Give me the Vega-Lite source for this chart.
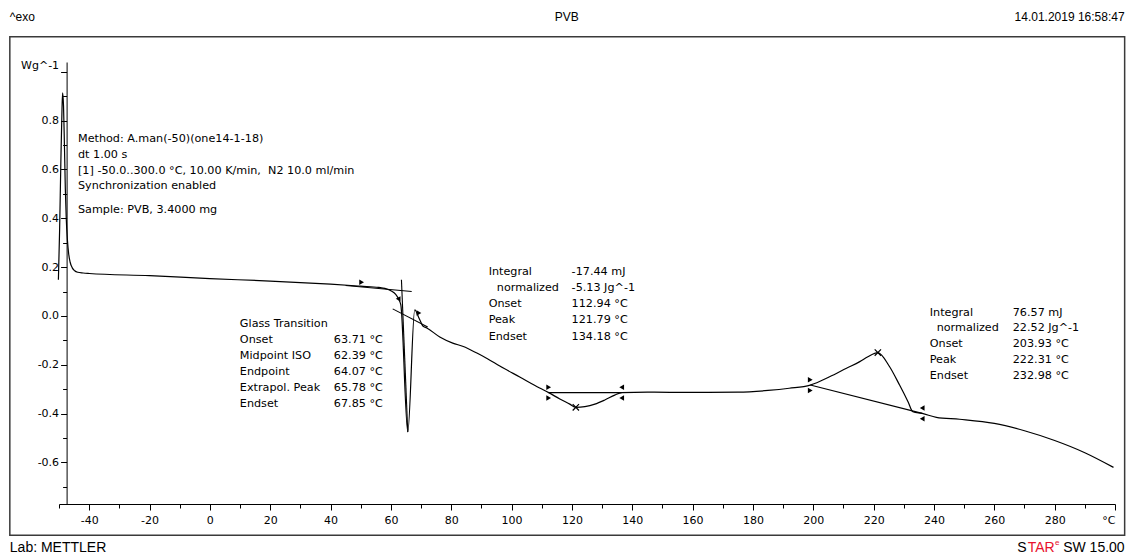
{
  "$schema": "https://vega.github.io/schema/vega-lite/v6.json",
  "width": 1056,
  "height": 442,
  "autosize": "none",
  "padding": {"left": 59, "top": 62, "right": 20, "bottom": 52},
  "background": "white",
  "config": {"view": {"stroke": null}},
  "datasets": {
    "frame": [{"x1": -66.3, "x2": 303.2, "y1": 1.143, "y2": -0.898}],
    "curve": [
      {"t": -50.2, "w": 0.148}, {"t": -49.8, "w": 0.35}, {"t": -49.4, "w": 0.62}, {"t": -49.0, "w": 0.85},
      {"t": -48.8, "w": 0.914}, {"t": -48.5, "w": 0.86}, {"t": -48.2, "w": 0.70}, {"t": -47.9, "w": 0.52},
      {"t": -47.6, "w": 0.40}, {"t": -47.2, "w": 0.31}, {"t": -46.8, "w": 0.255}, {"t": -46.3, "w": 0.22},
      {"t": -45.6, "w": 0.197}, {"t": -44.8, "w": 0.185}, {"t": -43.8, "w": 0.179}, {"t": -42, "w": 0.176},
      {"t": -40, "w": 0.174}, {"t": -20, "w": 0.165}, {"t": 0, "w": 0.153}, {"t": 20, "w": 0.143},
      {"t": 40, "w": 0.130}, {"t": 50, "w": 0.122}, {"t": 56, "w": 0.117}, {"t": 58, "w": 0.113},
      {"t": 60, "w": 0.103}, {"t": 61.6, "w": 0.088}, {"t": 62.6, "w": 0.068}, {"t": 63.3, "w": 0.045},
      {"t": 65.6, "w": -0.475}, {"t": 67.9, "w": 0.025}, {"t": 69.3, "w": -0.008}, {"t": 70.6, "w": -0.041},
      {"t": 71.9, "w": -0.049}, {"t": 76.2, "w": -0.086}, {"t": 80.5, "w": -0.111}, {"t": 84, "w": -0.125},
      {"t": 88.5, "w": -0.152}, {"t": 92, "w": -0.175}, {"t": 96.1, "w": -0.205}, {"t": 102.7, "w": -0.25},
      {"t": 109.3, "w": -0.295}, {"t": 112.3, "w": -0.314}, {"t": 116.0, "w": -0.340}, {"t": 119.3, "w": -0.361},
      {"t": 121.3, "w": -0.374}, {"t": 124.3, "w": -0.371}, {"t": 127.6, "w": -0.361}, {"t": 130.9, "w": -0.344},
      {"t": 134.2, "w": -0.324}, {"t": 136.5, "w": -0.314}, {"t": 145, "w": -0.312}, {"t": 160, "w": -0.313},
      {"t": 175, "w": -0.312}, {"t": 185, "w": -0.305}, {"t": 192, "w": -0.296}, {"t": 199, "w": -0.283},
      {"t": 205.4, "w": -0.249}, {"t": 211.0, "w": -0.214}, {"t": 215.4, "w": -0.187}, {"t": 218.1, "w": -0.167},
      {"t": 221.4, "w": -0.150}, {"t": 225.3, "w": -0.208}, {"t": 228.6, "w": -0.283}, {"t": 231.4, "w": -0.351},
      {"t": 233.0, "w": -0.392}, {"t": 236.1, "w": -0.399}, {"t": 240.8, "w": -0.415}, {"t": 248.5, "w": -0.423},
      {"t": 260, "w": -0.44}, {"t": 270, "w": -0.47}, {"t": 280, "w": -0.51}, {"t": 290, "w": -0.56},
      {"t": 299.5, "w": -0.62}
    ],
    "segments": [
      {"seg": "b1", "t": 45, "w": 0.125}, {"seg": "b1", "t": 66.9, "w": 0.100},
      {"seg": "b2", "t": 60.6, "w": 0.029}, {"seg": "b2", "t": 72.2, "w": -0.045},
      {"seg": "tg", "t": 63.5, "w": 0.148}, {"seg": "tg", "t": 65.6, "w": -0.475},
      {"seg": "i1", "t": 112.3, "w": -0.314}, {"seg": "i1", "t": 136.5, "w": -0.314},
      {"seg": "i2", "t": 199, "w": -0.283}, {"seg": "i2", "t": 236.1, "w": -0.399}
    ],
    "marks": [
      {"kind": "right", "t": 112.3, "w": -0.292}, {"kind": "right", "t": 112.3, "w": -0.336},
      {"kind": "right", "t": 199, "w": -0.261}, {"kind": "right", "t": 199, "w": -0.305},
      {"kind": "right", "t": 50.3, "w": 0.138}, {"kind": "right", "t": 69.3, "w": 0.012},
      {"kind": "left", "t": 136.5, "w": -0.292}, {"kind": "left", "t": 136.5, "w": -0.336},
      {"kind": "left", "t": 236.1, "w": -0.377}, {"kind": "left", "t": 236.1, "w": -0.421},
      {"kind": "left", "t": 62.4, "w": 0.07},
      {"kind": "x", "t": 121.3, "w": -0.374}, {"kind": "x", "t": 221.4, "w": -0.150}
    ],
    "texts": [
      {"grp": "note", "label": "Method: A.man(-50)(one14-1-18)", "t": -43.7, "w": 0.725},
      {"grp": "note", "label": "dt 1.00 s", "t": -43.7, "w": 0.660},
      {"grp": "note", "label": "[1] -50.0..300.0 °C, 10.00 K/min,\u00a0 N2 10.0 ml/min", "t": -43.7, "w": 0.594},
      {"grp": "note", "label": "Synchronization enabled", "t": -43.7, "w": 0.533},
      {"grp": "note", "label": "Sample: PVB, 3.4000 mg", "t": -43.7, "w": 0.434},
      {"grp": "note", "label": "Glass Transition", "t": 9.94, "w": -0.033},
      {"grp": "note", "label": "Onset", "t": 9.94, "w": -0.098},
      {"grp": "note", "label": "Midpoint ISO", "t": 9.94, "w": -0.164},
      {"grp": "note", "label": "Endpoint", "t": 9.94, "w": -0.230},
      {"grp": "note", "label": "Extrapol. Peak", "t": 9.94, "w": -0.295},
      {"grp": "note", "label": "Endset", "t": 9.94, "w": -0.361},
      {"grp": "note", "label": "63.71 °C", "t": 41.1, "w": -0.098},
      {"grp": "note", "label": "62.39 °C", "t": 41.1, "w": -0.164},
      {"grp": "note", "label": "64.07 °C", "t": 41.1, "w": -0.230},
      {"grp": "note", "label": "65.78 °C", "t": 41.1, "w": -0.295},
      {"grp": "note", "label": "67.85 °C", "t": 41.1, "w": -0.361},
      {"grp": "note", "label": "Integral", "t": 92.4, "w": 0.180},
      {"grp": "note", "label": "normalized", "t": 95.1, "w": 0.115},
      {"grp": "note", "label": "Onset", "t": 92.4, "w": 0.049},
      {"grp": "note", "label": "Peak", "t": 92.4, "w": -0.016},
      {"grp": "note", "label": "Endset", "t": 92.4, "w": -0.086},
      {"grp": "note", "label": "-17.44 mJ", "t": 119.9, "w": 0.180},
      {"grp": "note", "label": "-5.13 Jg^-1", "t": 119.9, "w": 0.115},
      {"grp": "note", "label": "112.94 °C", "t": 119.9, "w": 0.049},
      {"grp": "note", "label": "121.79 °C", "t": 119.9, "w": -0.016},
      {"grp": "note", "label": "134.18 °C", "t": 119.9, "w": -0.086},
      {"grp": "note", "label": "Integral", "t": 238.6, "w": 0.012},
      {"grp": "note", "label": "normalized", "t": 240.9, "w": -0.049},
      {"grp": "note", "label": "Onset", "t": 238.6, "w": -0.115},
      {"grp": "note", "label": "Peak", "t": 238.6, "w": -0.180},
      {"grp": "note", "label": "Endset", "t": 238.6, "w": -0.246},
      {"grp": "note", "label": "76.57 mJ", "t": 266.1, "w": 0.012},
      {"grp": "note", "label": "22.52 Jg^-1", "t": 266.1, "w": -0.049},
      {"grp": "note", "label": "203.93 °C", "t": 266.1, "w": -0.115},
      {"grp": "note", "label": "222.31 °C", "t": 266.1, "w": -0.180},
      {"grp": "note", "label": "232.98 °C", "t": 266.1, "w": -0.246},
      {"grp": "hl", "label": "^exo", "t": -66.3, "w": 1.225},
      {"grp": "hc", "label": "PVB", "t": 118.3, "w": 1.225},
      {"grp": "hr", "label": "14.01.2019 16:58:47", "t": 303.2, "w": 1.225},
      {"grp": "fl", "label": "Lab: METTLER", "t": -66.3, "w": -0.951},
      {"grp": "fr", "label": "SW 15.00", "t": 303.2, "w": -0.951},
      {"grp": "fr", "label": "S", "t": 270.7, "w": -0.951},
      {"grp": "fred", "label": "TAR", "t": 279.98, "w": -0.951},
      {"grp": "fsup", "label": "e", "t": 281.55, "w": -0.93}
    ]
  },
  "resolve": {"axis": {"x": "independent", "y": "independent"}},
  "layer": [
    {
      "data": {"name": "frame"},
      "mark": {"type": "rect", "fill": null, "stroke": "#3a3a3a", "strokeWidth": 1.5},
      "encoding": {
        "x": {"field": "x1", "type": "quantitative", "scale": {"domain": [-50, 300], "nice": false, "zero": false}, "axis": null},
        "x2": {"field": "x2"},
        "y": {"field": "y1", "type": "quantitative", "scale": {"domain": [-0.77, 1.04], "nice": false, "zero": false}, "axis": null},
        "y2": {"field": "y2"}
      }
    },
    {
      "data": {"name": "curve"},
      "mark": {"type": "line", "color": "#000", "strokeWidth": 1.2, "interpolate": "monotone"},
      "encoding": {
        "x": {"field": "t", "type": "quantitative", "scale": {"domain": [-50, 300], "nice": false, "zero": false},
          "axis": {"orient": "bottom", "title": null, "grid": false, "values": [-40, -20, 0, 20, 40, 60, 80, 100, 120, 140, 160, 180, 200, 220, 240, 260, 280, 300],
            "labelExpr": "datum.value == 300 ? '°C' : replace(format(datum.value, 'd'), '−', '-')",
            "labelFlush": true, "tickSize": 6, "tickColor": "#000", "domainColor": "#000", "labelColor": "#000",
            "labelFont": "DejaVu Sans", "labelFontSize": 11, "labelPadding": 4}},
        "y": {"field": "w", "type": "quantitative", "scale": {"domain": [-0.77, 1.04], "nice": false, "zero": false},
          "axis": {"orient": "left", "offset": -7.6, "title": null, "grid": false, "values": [-0.6, -0.4, -0.2, 0, 0.2, 0.4, 0.6, 0.8, 1.0],
            "labelExpr": "datum.value > 0.95 ? 'Wg^-1' : replace(format(datum.value, '.1f'), '−', '-')",
            "labelOffset": {"condition": {"test": "datum.value > 0.95", "value": -6}, "value": 0},
            "tickSize": 6, "tickColor": "#000", "domainColor": "#000", "labelColor": "#000",
            "labelFont": "DejaVu Sans", "labelFontSize": 11, "labelPadding": 2}},
        "order": {"field": "t", "type": "quantitative"}
      }
    },
    {
      "data": {"name": "segments"},
      "mark": {"type": "line", "color": "#000", "strokeWidth": 1.1},
      "encoding": {
        "x": {"field": "t", "type": "quantitative", "scale": {"domain": [-50, 300], "nice": false, "zero": false},
          "axis": {"orient": "bottom", "title": null, "grid": false, "labels": false, "domain": false,
            "values": [-50, -30, -10, 10, 30, 50, 70, 90, 110, 130, 150, 170, 190, 210, 230, 250, 270, 290],
            "tickSize": 4, "tickColor": "#000"}},
        "y": {"field": "w", "type": "quantitative", "scale": {"domain": [-0.77, 1.04], "nice": false, "zero": false},
          "axis": {"orient": "left", "offset": -7.6, "title": null, "grid": false, "labels": false, "domain": false,
            "values": [-0.7, -0.5, -0.3, -0.1, 0.1, 0.3, 0.5, 0.7, 0.9],
            "tickSize": 4, "tickColor": "#000"}},
        "detail": {"field": "seg", "type": "nominal"}
      }
    },
    {
      "data": {"name": "marks"},
      "transform": [{"filter": "datum.kind == 'right'"}],
      "mark": {"type": "point", "shape": "triangle-right", "filled": true, "color": "#000", "opacity": 1, "size": 30},
      "encoding": {
        "x": {"field": "t", "type": "quantitative", "axis": null},
        "y": {"field": "w", "type": "quantitative", "axis": null}
      }
    },
    {
      "data": {"name": "marks"},
      "transform": [{"filter": "datum.kind == 'left'"}],
      "mark": {"type": "point", "shape": "triangle-left", "filled": true, "color": "#000", "opacity": 1, "size": 30},
      "encoding": {
        "x": {"field": "t", "type": "quantitative", "axis": null},
        "y": {"field": "w", "type": "quantitative", "axis": null}
      }
    },
    {
      "data": {"name": "marks"},
      "transform": [{"filter": "datum.kind == 'x'"}],
      "mark": {"type": "point", "shape": "M-1,-1L1,1M-1,1L1,-1", "filled": false, "color": "#000", "opacity": 1, "strokeWidth": 1.2, "size": 40},
      "encoding": {
        "x": {"field": "t", "type": "quantitative", "axis": null},
        "y": {"field": "w", "type": "quantitative", "axis": null}
      }
    },
    {
      "data": {"name": "texts"},
      "transform": [{"filter": "datum.grp == 'note'"}],
      "mark": {"type": "text", "align": "left", "baseline": "middle", "font": "DejaVu Sans", "fontSize": 11.2, "color": "#000"},
      "encoding": {
        "x": {"field": "t", "type": "quantitative", "axis": null},
        "y": {"field": "w", "type": "quantitative", "axis": null},
        "text": {"field": "label"}
      }
    },
    {
      "data": {"name": "texts"},
      "transform": [{"filter": "datum.grp == 'hl'"}],
      "mark": {"type": "text", "align": "left", "baseline": "middle", "font": "Liberation Sans Narrow, Liberation Sans, Arial", "fontSize": 12, "color": "#000"},
      "encoding": {
        "x": {"field": "t", "type": "quantitative", "axis": null},
        "y": {"field": "w", "type": "quantitative", "axis": null},
        "text": {"field": "label"}
      }
    },
    {
      "data": {"name": "texts"},
      "transform": [{"filter": "datum.grp == 'hc'"}],
      "mark": {"type": "text", "align": "center", "baseline": "middle", "font": "Liberation Sans Narrow, Liberation Sans, Arial", "fontSize": 12, "color": "#000"},
      "encoding": {
        "x": {"field": "t", "type": "quantitative", "axis": null},
        "y": {"field": "w", "type": "quantitative", "axis": null},
        "text": {"field": "label"}
      }
    },
    {
      "data": {"name": "texts"},
      "transform": [{"filter": "datum.grp == 'hr'"}],
      "mark": {"type": "text", "align": "right", "baseline": "middle", "font": "Liberation Sans Narrow, Liberation Sans, Arial", "fontSize": 12, "color": "#000"},
      "encoding": {
        "x": {"field": "t", "type": "quantitative", "axis": null},
        "y": {"field": "w", "type": "quantitative", "axis": null},
        "text": {"field": "label"}
      }
    },
    {
      "data": {"name": "texts"},
      "transform": [{"filter": "datum.grp == 'fl'"}],
      "mark": {"type": "text", "align": "left", "baseline": "middle", "font": "Liberation Sans, Arial", "fontSize": 14, "color": "#000"},
      "encoding": {
        "x": {"field": "t", "type": "quantitative", "axis": null},
        "y": {"field": "w", "type": "quantitative", "axis": null},
        "text": {"field": "label"}
      }
    },
    {
      "data": {"name": "texts"},
      "transform": [{"filter": "datum.grp == 'fr'"}],
      "mark": {"type": "text", "align": "right", "baseline": "middle", "font": "Liberation Sans, Arial", "fontSize": 14, "color": "#000"},
      "encoding": {
        "x": {"field": "t", "type": "quantitative", "axis": null},
        "y": {"field": "w", "type": "quantitative", "axis": null},
        "text": {"field": "label"}
      }
    },
    {
      "data": {"name": "texts"},
      "transform": [{"filter": "datum.grp == 'fred'"}],
      "mark": {"type": "text", "align": "right", "baseline": "middle", "font": "Liberation Sans, Arial", "fontSize": 14, "color": "#e8112d"},
      "encoding": {
        "x": {"field": "t", "type": "quantitative", "axis": null},
        "y": {"field": "w", "type": "quantitative", "axis": null},
        "text": {"field": "label"}
      }
    },
    {
      "data": {"name": "texts"},
      "transform": [{"filter": "datum.grp == 'fsup'"}],
      "mark": {"type": "text", "align": "right", "baseline": "middle", "font": "Liberation Sans, Arial", "fontSize": 8, "color": "#e8112d"},
      "encoding": {
        "x": {"field": "t", "type": "quantitative", "axis": null},
        "y": {"field": "w", "type": "quantitative", "axis": null},
        "text": {"field": "label"}
      }
    }
  ]
}
